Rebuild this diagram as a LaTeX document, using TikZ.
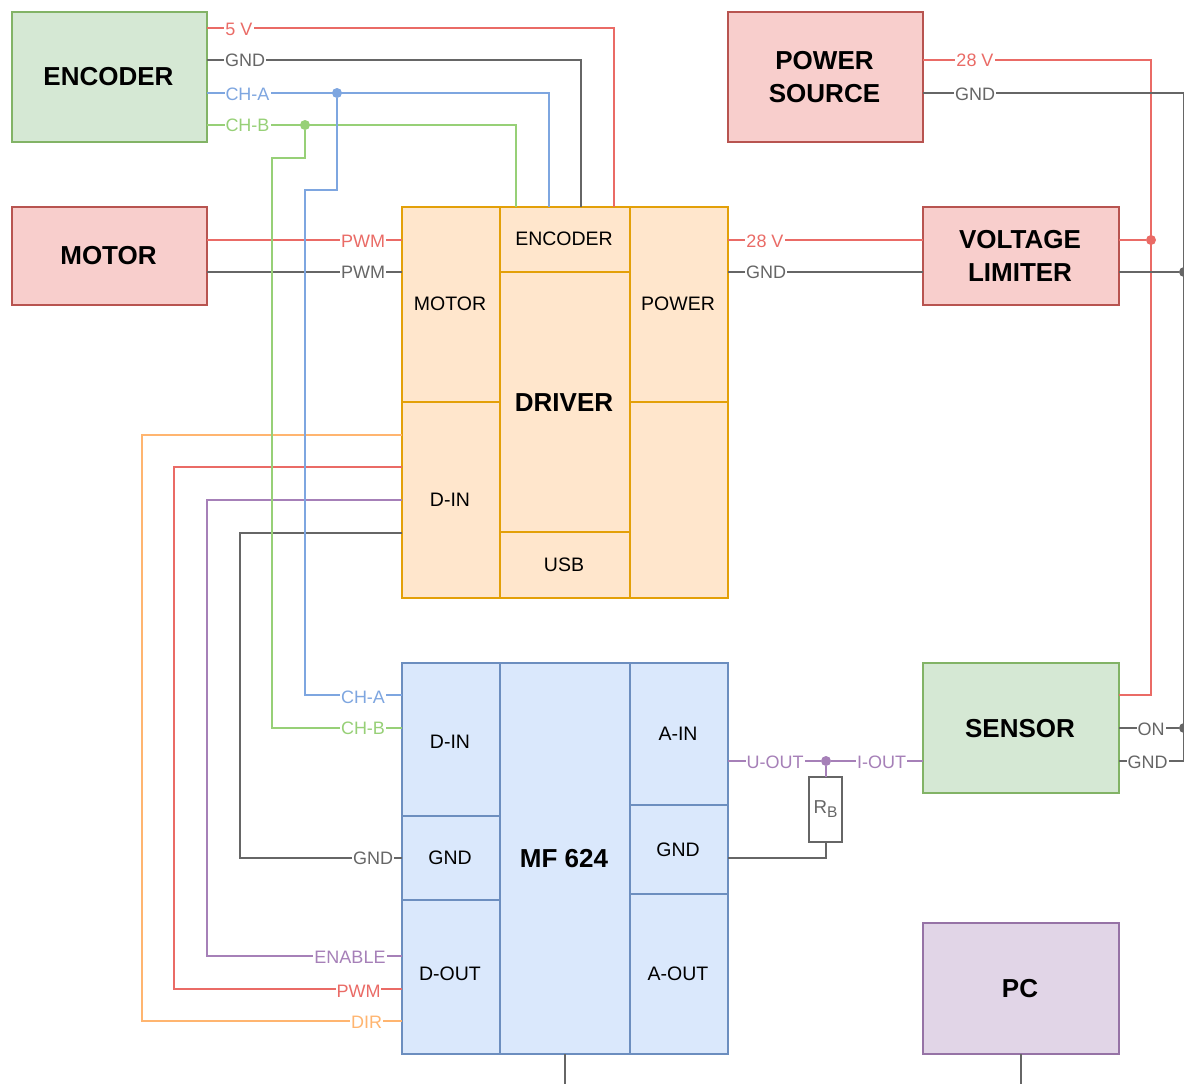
\documentclass[tikz,border=0pt]{standalone}
\usepackage{fontspec}
\setmainfont{Liberation Sans}
\definecolor{wred}{HTML}{EA6B66}
\definecolor{wgreen}{HTML}{97D077}
\definecolor{wblue}{HTML}{7EA6E0}
\definecolor{wpurple}{HTML}{A680B8}
\definecolor{worange}{HTML}{FFB570}
\definecolor{wgray}{HTML}{666666}
\definecolor{gf}{HTML}{D5E8D4}\definecolor{gd}{HTML}{82B366}
\definecolor{rf}{HTML}{F8CECC}\definecolor{rd}{HTML}{B85450}
\definecolor{of}{HTML}{FFE6CC}\definecolor{od}{HTML}{E3A008}
\definecolor{bf}{HTML}{DAE8FC}\definecolor{bd}{HTML}{6C8EBF}
\definecolor{pf}{HTML}{E1D5E7}\definecolor{pd}{HTML}{9673A6}
\newcommand\bx[7][]{\node[#1,minimum width={(#5-#3)*1pt},minimum height={(#6-#4)*1pt}] (#2) at ({(#3+#5)/2},{(#4+#6)/2}) {#7};}
\newcommand\mv[2]{\raisebox{#1}[\height][\depth]{\kern-1pt #2\kern1pt}}
\tikzset{
  basebox/.style={draw,line width=1.4pt,inner sep=0pt,outer sep=0pt,align=center},
  big/.style={basebox,font=\fontsize{26}{32.5}\selectfont\bfseries},
  small/.style={basebox,font=\fontsize{19.5}{24}\selectfont},
  grn/.style={draw=gd,fill=gf},
  rd/.style={draw=rd,fill=rf},
  org/.style={draw=od,fill=of},
  blu/.style={draw=bd,fill=bf},
  pur/.style={draw=pd,fill=pf},
  wire/.style={line width=1.4pt},
  lbl/.style={fill=white,inner sep=0pt,inner xsep=1pt,font=\fontsize{18}{22}\selectfont},
  jn/.style={circle,inner sep=0pt,minimum size=10pt,fill=#1,draw=none},
}
\begin{document}
\begin{tikzpicture}[x=1pt,y=-1pt]
\useasboundingbox (0,0) rectangle (1184,1084);
\clip (0,0) rectangle (1184,1084);
% page-edge free ends
\coordinate (edgeA) at (565,1090);
\coordinate (edgeB) at (1021,1090);
% top-level boxes
\bx[big,grn]{encoder}{12}{12}{207}{142}{\mv{0pt}{ENCODER}}
\bx[big,rd]{motor}{12}{207}{207}{305}{\mv{0pt}{MOTOR}}
\bx[big,rd]{source}{728}{12}{923}{142}{\mv{0pt}{POWER}\\\mv{0pt}{SOURCE}}
\bx[big,rd]{limiter}{923}{207}{1119}{305}{\mv{0pt}{VOLTAGE}\\\mv{0pt}{LIMITER}}
\bx[big,grn]{sensor}{923}{663}{1119}{793}{\mv{-1pt}{SENSOR}}
\bx[big,pur]{pc}{923}{923}{1119}{1054}{\mv{0pt}{PC}}
% driver
\bx[small,org]{dmotor}{402}{207}{500}{402}{\mv{1pt}{MOTOR}}
\bx[small,org]{ddin}{402}{402}{500}{598}{\mv{0pt}{D-IN}}
\bx[small,org]{denc}{500}{207}{630}{272}{\mv{1pt}{ENCODER}}
\bx[big,org]{driver}{500}{272}{630}{532}{\mv{-1pt}{DRIVER}}
\bx[small,org]{dusb}{500}{532}{630}{598}{\mv{0pt}{USB}}
\bx[small,org]{dpower}{630}{207}{728}{402}{\mv{1pt}{POWER}}
\bx[small,org]{dblank}{630}{402}{728}{598}{}
% mf624
\bx[small,blu]{mdin}{402}{663}{500}{816}{\mv{-2pt}{D-IN}}
\bx[small,blu]{mgnd}{402}{816}{500}{900}{\mv{0pt}{GND}}
\bx[small,blu]{mdout}{402}{900}{500}{1054}{\mv{3pt}{D-OUT}}
\bx[big,blu]{mf}{500}{663}{630}{1054}{\mv{0pt}{MF 624}}
\bx[small,blu]{main}{630}{663}{728}{805}{\mv{0pt}{A-IN}}
\bx[small,blu]{magnd}{630}{805}{728}{894}{\mv{0pt}{GND}}
\bx[small,blu]{maout}{630}{894}{728}{1054}{\mv{0pt}{A-OUT}}
% resistor
\node[draw=wgray,line width=1.4pt,fill=white,inner sep=0pt,outer sep=0pt,minimum width=33pt,minimum height=65pt,text=wgray,font=\fontsize{18.7}{22}\selectfont] (rb) at (825.5,809.5) {R\raisebox{-4pt}{\fontsize{15.5}{18}\selectfont B}};
% junctions
\node[jn=wblue] (jA) at (337,93) {};
\node[jn=wgreen] (jB) at (305,125) {};
\node[jn=wred] (jR) at (1151,240) {};
\node[jn=wgray] (jG1) at (1184,272) {};
\node[jn=wgray] (jG2) at (1184,728) {};
\node[jn=wpurple] (jP) at (826,761) {};
% wires: motor and driver power
\draw[wire,wred] (motor.east |- 0,240) -- (dmotor.west |- 0,240);
\draw[wire,wgray] (motor.east |- 0,272) -- (dmotor.west |- 0,272);
\draw[wire,wred] (dpower.east |- 0,240) -- (limiter.west |- 0,240);
\draw[wire,wgray] (dpower.east |- 0,272) -- (limiter.west |- 0,272);
% d-out to d-in
\draw[wire,worange] (ddin.west |- 0,435) -- (142,435) -- (142,1021) -- (mdout.west |- 0,1021);
\draw[wire,wred] (ddin.west |- 0,467) -- (174,467) -- (174,989) -- (mdout.west |- 0,989);
\draw[wire,wpurple] (ddin.west |- 0,500) -- (207,500) -- (207,956) -- (mdout.west |- 0,956);
\draw[wire,wgray] (ddin.west |- 0,533) -- (240,533) -- (240,858) -- (mgnd.west |- 0,858);
% encoder wires
\draw[wire,wred] (encoder.east |- 0,28) -- (614,28) -- (denc.north -| 614,0);
\draw[wire,wgray] (encoder.east |- 0,60) -- (581,60) -- (denc.north -| 581,0);
\draw[wire,wblue] (encoder.east |- 0,93) -- (549,93) -- (denc.north -| 549,0);
\draw[wire,wgreen] (encoder.east |- 0,125) -- (516,125) -- (dmotor.north -| 516,0);
\draw[wire,wgreen] (jB) -- (305,158) -- (272,158) -- (272,728) -- (mdin.west |- 0,728);
\draw[wire,wblue] (jA) -- (337,190) -- (305,190) -- (305,695) -- (mdin.west |- 0,695);
% power rails
\draw[wire,wred] (source.east |- 0,60) -- (1151,60) -- (1151,695) -- (sensor.east |- 0,695);
\draw[wire,wred] (limiter.east |- jR) -- (jR);
\draw[wire,wgray] (source.east |- 0,93) -- (1183.5,93) -- (1183.5,761) -- (sensor.east |- 0,761);
\draw[wire,wgray] (limiter.east |- jG1) -- (jG1);
\draw[wire,wgray] (sensor.east |- jG2) -- (jG2);
% current loop
\draw[wire,wpurple] (main.east |- jP) -- (jP);
\draw[wire,wpurple] (jP) -- (sensor.west |- jP);
\draw[wire,wpurple] (jP) -- (rb.north -| jP);
\draw[wire,wgray] (rb.south -| jP) -- (jP |- 0,858) -- (magnd.east |- 0,858);
% bottom stubs
\draw[wire,wgray] (mf.south) -- (mf.south |- edgeA);
\draw[wire,wgray] (pc.south) -- (pc.south |- edgeB);
% labels
\node[lbl,text=wred] (l1) at (239,29) {5 V};
\node[lbl,text=wgray] (l2) at (245,60) {GND};
\node[lbl,text=wblue] (l3) at (247.5,94.5) {CH-A};
\node[lbl,text=wgreen] (l4) at (247.5,125) {CH-B};
\node[lbl,text=wred] (l5) at (975,60) {28 V};
\node[lbl,text=wgray] (l6) at (975,94.5) {GND};
\node[lbl,text=wred] (l7) at (363,241.5) {PWM};
\node[lbl,text=wgray] (l8) at (363,272) {PWM};
\node[lbl,text=wred] (l9) at (765,241.5) {28 V};
\node[lbl,text=wgray] (l10) at (766,272) {GND};
\node[lbl,text=wblue] (l11) at (363,697.5) {CH-A};
\node[lbl,text=wgreen] (l12) at (363,728) {CH-B};
\node[lbl,text=wgray] (l13) at (373,858) {GND};
\node[lbl,text=wpurple] (l14) at (350,957.5) {ENABLE};
\node[lbl,text=wred] (l15) at (358.5,991) {PWM};
\node[lbl,text=worange] (l16) at (366.5,1022.5) {DIR};
\node[lbl,text=wpurple] (l17) at (775,762.5) {U-OUT};
\node[lbl,text=wpurple] (l18) at (881.5,762.5) {I-OUT};
\node[lbl,text=wgray] (l19) at (1151,729.5) {ON};
\node[lbl,text=wgray] (l20) at (1147.5,762.5) {GND};
\end{tikzpicture}
\end{document}
